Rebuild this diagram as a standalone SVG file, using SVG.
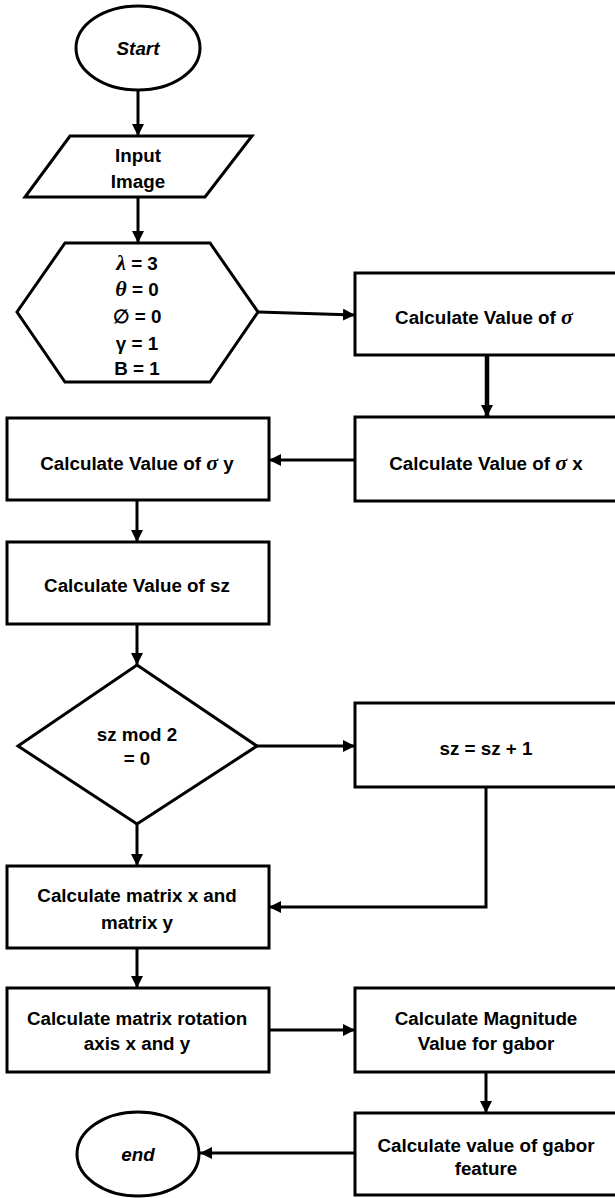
<svg xmlns="http://www.w3.org/2000/svg" width="615" height="1198" viewBox="0 0 615 1198">
<defs>
<style>
.s{fill:#fff;stroke:#000;stroke-width:3}
.t{font-family:"Liberation Sans",Arial,sans-serif;font-weight:bold;font-size:18.8px;fill:#000;text-anchor:middle}
.i{font-style:italic}
.g{font-family:"Liberation Serif","DejaVu Serif",serif;font-style:italic;font-weight:bold;font-size:22px}
.c{fill:none;stroke:#000;stroke-width:3}
</style>
<marker id="a" viewBox="0 0 12 12" markerUnits="userSpaceOnUse" markerWidth="12" markerHeight="12" refX="12" refY="6" orient="auto">
<path d="M0,0 L12,6 L0,12 Z" fill="#000"/>
</marker>
</defs>
<rect width="615" height="1198" fill="#fff"/>
<g id="connectors">
<path class="c" d="M138,90 L138,136" marker-end="url(#a)"/>
<path class="c" d="M138,197 L138,243" marker-end="url(#a)"/>
<path class="c" d="M258,312 L355,315" marker-end="url(#a)"/>
<path class="c" d="M487,355 L487,417" style="stroke-width:4.5" marker-end="url(#a)"/>
<path class="c" d="M355,460 L269,460" marker-end="url(#a)"/>
<path class="c" d="M137,500 L137,542" marker-end="url(#a)"/>
<path class="c" d="M137,624 L137,665" marker-end="url(#a)"/>
<path class="c" d="M257,746 L355,746" marker-end="url(#a)"/>
<path class="c" d="M137,824 L137,866" marker-end="url(#a)"/>
<path class="c" d="M486,787 L486,907 L269,907" marker-end="url(#a)"/>
<path class="c" d="M137,948 L137,988" marker-end="url(#a)"/>
<path class="c" d="M269,1030 L355,1030" marker-end="url(#a)"/>
<path class="c" d="M486,1072 L486,1113" marker-end="url(#a)"/>
<path class="c" d="M355,1153 L200,1153" marker-end="url(#a)"/>
</g>
<g id="start">
<ellipse class="s" cx="138" cy="48" rx="62" ry="42"/>
<text class="t i" x="138" y="54.5">Start</text>
</g>
<g id="input">
<polygon class="s" points="70,136 252,136 205,197 25,197"/>
<text class="t" x="138" y="161.5">Input</text>
<text class="t" x="138" y="187.5">Image</text>
</g>
<g id="params">
<polygon class="s" points="65,243 210,243 258,312 210,382 65,382 17,312"/>
<text class="t" x="137" y="269.5"><tspan class="g">λ</tspan> = 3</text>
<text class="t" x="137" y="295.5"><tspan class="g">θ</tspan> = 0</text>
<text class="t" x="137" y="322.5">∅ = 0</text>
<text class="t" x="137" y="349.5">γ = 1</text>
<text class="t" x="137" y="374.5">B = 1</text>
</g>
<g id="sigma">
<rect class="s" x="355" y="273" width="265" height="82"/>
<text class="t" x="484" y="323.5">Calculate Value of <tspan class="g">σ</tspan></text>
</g>
<g id="sigmax">
<rect class="s" x="355" y="417" width="265" height="84"/>
<text class="t" x="486" y="469.5">Calculate Value of <tspan class="g">σ</tspan> x</text>
</g>
<g id="sigmay">
<rect class="s" x="7" y="418" width="262" height="82"/>
<text class="t" x="137" y="469.5">Calculate Value of <tspan class="g">σ</tspan> y</text>
</g>
<g id="sz">
<rect class="s" x="7" y="542" width="262" height="82"/>
<text class="t" x="137" y="591.5">Calculate Value of sz</text>
</g>
<g id="decision">
<polygon class="s" points="137,665 257,746 137,824 18,746"/>
<text class="t" x="137" y="740.5">sz mod 2</text>
<text class="t" x="137" y="764.5">= 0</text>
</g>
<g id="szinc">
<rect class="s" x="355" y="703" width="265" height="84"/>
<text class="t" x="486" y="754.5">sz = sz + 1</text>
</g>
<g id="matrix">
<rect class="s" x="7" y="866" width="262" height="82"/>
<text class="t" x="137" y="901.5">Calculate matrix x and</text>
<text class="t" x="137" y="928.5">matrix y</text>
</g>
<g id="rotation">
<rect class="s" x="7" y="988" width="262" height="84"/>
<text class="t" x="137" y="1024.5">Calculate matrix rotation</text>
<text class="t" x="137" y="1049.5">axis x and y</text>
</g>
<g id="magnitude">
<rect class="s" x="355" y="988" width="265" height="84"/>
<text class="t" x="486" y="1024.5">Calculate Magnitude</text>
<text class="t" x="486" y="1049.5">Value for gabor</text>
</g>
<g id="gabor">
<rect class="s" x="355" y="1113" width="265" height="82"/>
<text class="t" x="486" y="1151.5">Calculate value of gabor</text>
<text class="t" x="486" y="1174.5">feature</text>
</g>
<g id="end">
<ellipse class="s" cx="138" cy="1154" rx="61" ry="42"/>
<text class="t i" x="138" y="1160.5">end</text>
</g>
</svg>
